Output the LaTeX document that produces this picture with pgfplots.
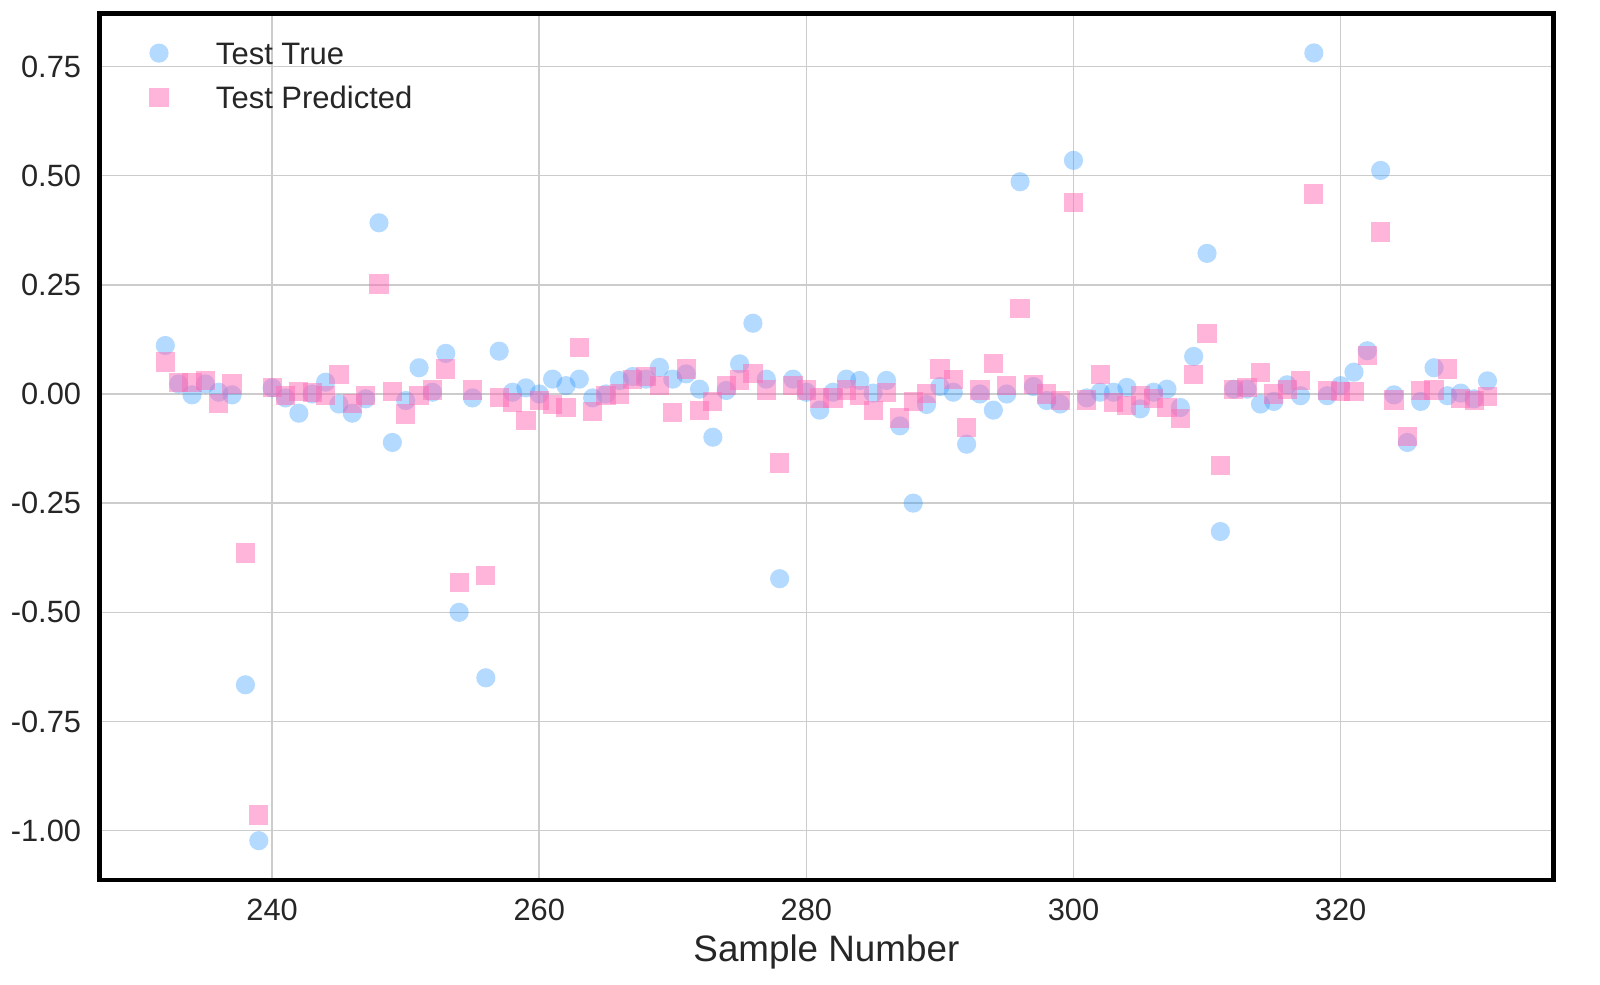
\documentclass[border=0pt]{standalone}
\usepackage{pgfplots}
\pgfplotsset{compat=1.18}
\usepackage{pgfplotstable}
\usepackage{fontspec}
\setmainfont{Liberation Sans}
\definecolor{lsb}{RGB}{30,144,255}
\definecolor{hpk}{RGB}{255,105,180}
\definecolor{txt}{RGB}{38,38,38}
\definecolor{gridc}{RGB}{204,204,204}
\pgfplotstableread{
x t p
232 0.111 0.073
233 0.023 0.027
234 -0.002 0.027
235 0.023 0.031
236 0.004 -0.021
237 -0.002 0.023
238 -0.666 -0.364
239 -1.023 -0.964
240 0.014 0.014
241 -0.009 -0.004
242 -0.044 0.005
243 0.000 0.004
244 0.027 -0.004
245 -0.023 0.044
246 -0.044 -0.021
247 -0.011 -0.004
248 0.392 0.252
249 -0.111 0.005
250 -0.015 -0.046
251 0.060 -0.004
252 0.004 0.009
253 0.093 0.057
254 -0.500 -0.432
255 -0.009 0.009
256 -0.650 -0.416
257 0.098 -0.008
258 0.004 -0.019
259 0.014 -0.060
260 0.000 -0.015
261 0.034 -0.025
262 0.019 -0.031
263 0.034 0.106
264 -0.009 -0.040
265 0.000 -0.004
266 0.031 0.000
267 0.040 0.034
268 0.034 0.040
269 0.061 0.019
270 0.034 -0.042
271 0.046 0.057
272 0.011 -0.038
273 -0.099 -0.017
274 0.008 0.019
275 0.069 0.032
276 0.162 0.046
277 0.034 0.009
278 -0.423 -0.158
279 0.034 0.019
280 0.004 0.009
281 -0.037 -0.009
282 0.004 -0.009
283 0.034 0.009
284 0.031 -0.004
285 0.002 -0.037
286 0.031 0.004
287 -0.073 -0.055
288 -0.250 -0.017
289 -0.024 0.002
290 0.017 0.057
291 0.004 0.034
292 -0.115 -0.077
293 0.000 0.009
294 -0.037 0.069
295 0.000 0.019
296 0.486 0.195
297 0.017 0.021
298 -0.015 0.000
299 -0.023 -0.015
300 0.535 0.439
301 -0.009 -0.014
302 0.004 0.044
303 0.004 -0.019
304 0.015 -0.027
305 -0.034 -0.004
306 0.004 -0.011
307 0.011 -0.031
308 -0.031 -0.057
309 0.086 0.044
310 0.322 0.139
311 -0.315 -0.163
312 0.011 0.011
313 0.011 0.014
314 -0.023 0.050
315 -0.017 0.000
316 0.021 0.011
317 -0.004 0.031
318 0.781 0.458
319 -0.004 0.008
320 0.019 0.006
321 0.050 0.006
322 0.099 0.088
323 0.512 0.371
324 -0.002 -0.014
325 -0.111 -0.098
326 -0.017 0.008
327 0.060 0.009
328 -0.004 0.057
329 0.002 -0.011
330 -0.011 -0.015
331 0.030 -0.005
}\data
\begin{document}
\begin{tikzpicture}
\begin{axis}[
  scale only axis,
  width=363.6pt, height=216.7pt,
  xmin=227.05, xmax=335.95,
  ymin=-1.113, ymax=0.872,
  xtick={240,260,...,320},
  ytick={-1,-0.75,-0.5,-0.25,0,0.25,0.5,0.75},
  major tick length=0pt,
  grid=major,
  grid style={gridc, line width=0.38pt},
  axis line style={black, line width=1.2pt},
  /pgf/number format/assume math mode=true,
  yticklabel style={/pgf/number format/fixed, /pgf/number format/fixed zerofill, /pgf/number format/precision=2, xshift=-1pt},
  xticklabel style={/pgf/number format/fixed, /pgf/number format/precision=0, /pgf/number format/1000 sep={}, yshift=-1.25pt},
  every tick label/.append style={font=\fontsize{7.7}{9.2}\selectfont, text=txt},
  xlabel={Sample Number},
  xlabel style={at={(axis description cs:0.5,0)}, anchor=base, yshift=-20.3pt, font=\fontsize{9.2}{11}\selectfont, text=txt},
  legend style={draw=none, fill=none, at={(0,1)}, anchor=north west, xshift=12.35pt, yshift=-7.0pt,
    inner sep=0pt, row sep=5.55pt, column sep=0pt,
    font=\fontsize{7.75}{9.2}\selectfont, text=txt,
    nodes={inner sep=0pt, text height=5.55pt, text depth=0pt}},
  legend cell align=left,
  legend image code/.code={\draw[only marks,#1] plot coordinates {(0pt,0pt)}; \path[draw=none,fill=none] (-2.4pt,-2.775pt) rectangle (14.25pt,2.775pt);},
]
\addplot[only marks, mark=*, mark size=2.4pt, mark options={draw opacity=0, fill=lsb, fill opacity=0.33}] table[x=x, y=t] {\data};
\addlegendentry{Test True}
\addplot[only marks, mark=square*, mark size=2.4pt, mark options={draw opacity=0, fill=hpk, fill opacity=0.5}] table[x=x, y=p] {\data};
\addlegendentry{Test Predicted}
\end{axis}
\pgfresetboundingbox
\path (-24.8pt,-26.25pt) rectangle (375.2pt,220pt);
\end{tikzpicture}
\end{document}
